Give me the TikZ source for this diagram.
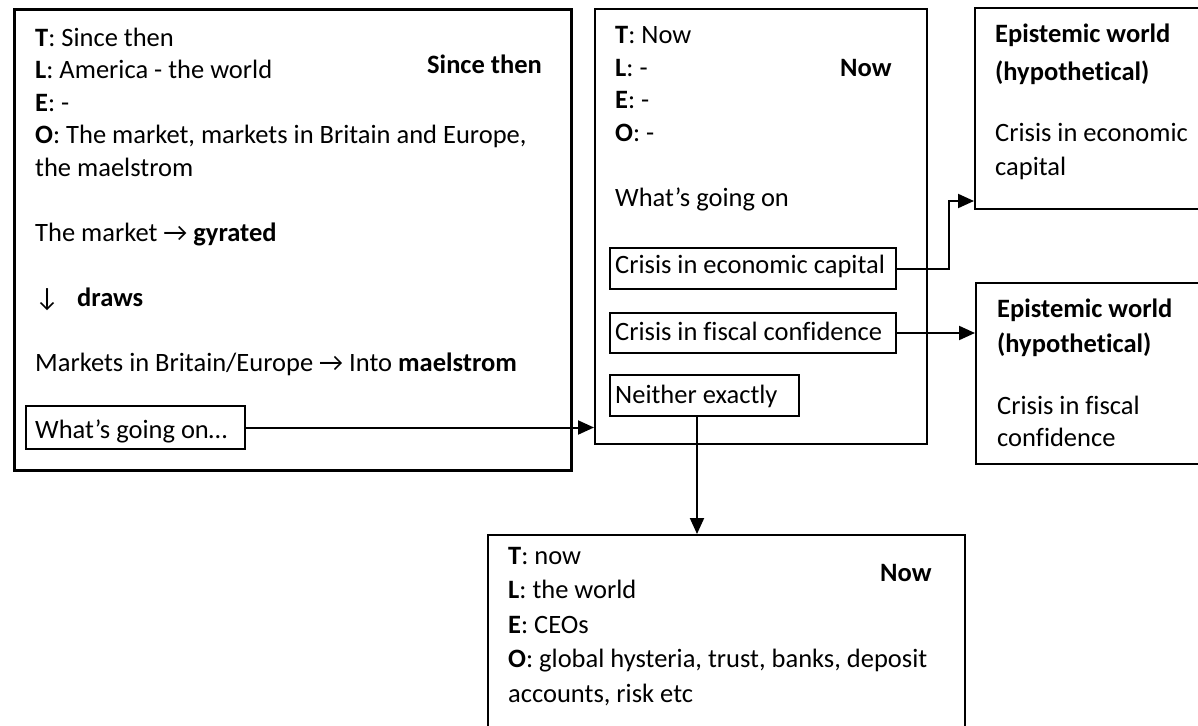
\documentclass[tikz,border=0pt]{standalone}
\usepackage{fontspec}
\setmainfont[Ligatures=NoCommon]{Carlito}
\usetikzlibrary{arrows.meta}

\tikzset{
  frame/.style={draw, line width=2pt, inner sep=0pt, anchor=north west},
  heavyframe/.style={frame, line width=2.7pt},
  txt/.style={anchor=base west, inner sep=0pt, font=\fontsize{26.5}{32.5}\selectfont},
  link/.style={line width=2pt, -{Triangle[length=16pt,width=14pt]}},
}
% a top-aligned block of lines whose baseline is that of its first line
\newcommand{\lines}[2]{\parbox[t]{#1}{\raggedright #2}}
\newcommand{\arr}{→}
\newcommand{\darr}{↓}

\begin{document}
\begin{tikzpicture}[x=1pt,y=-1pt]
\fill[white] (0,0) rectangle (1198,725);
\useasboundingbox (0,0) rectangle (1198,725);

% ---- "Since then" world
\node[heavyframe, minimum width=557pt, minimum height=461pt] (since) at (13,8) {};
\node[txt] (sincetext) at (35,46) {\lines{530pt}{%
  \textbf{T}: Since then\\
  \textbf{L}: America - the world\\
  \textbf{E}: -\\
  \textbf{O}: The market, markets in Britain and Europe,\\
  the maelstrom\\[32.5pt]
  The market \arr{} \textbf{gyrated}\\[32.5pt]
  \makebox[42pt][l]{\darr}\textbf{draws}\\[32.5pt]
  Markets in Britain/Europe \arr{} Into \textbf{maelstrom}}};
\node[txt] (sincelabel) at (427,74) {\textbf{Since then}};
\node[frame, minimum width=219pt, minimum height=43pt] (whats) at (25,405) {};
\node[txt] (whatstext) at (35,438) {What’s going on…};

% ---- "Now" world
\node[frame, minimum width=332pt, minimum height=435pt] (now) at (594,8) {};
\node[txt] (nowtext) at (615,44) {\lines{300pt}{%
  \textbf{T}: Now\\
  \textbf{L}: -\\
  \textbf{E}: -\\
  \textbf{O}: -\\[32.5pt]
  What’s going on}};
\node[txt] (nowlabel) at (840,76) {\textbf{Now}};
\node[frame, minimum width=286pt, minimum height=41pt] (econ) at (609,247) {};
\node[txt] (econtext) at (615,273) {Crisis in economic capital};
\node[frame, minimum width=286pt, minimum height=40pt] (fiscal) at (609,312) {};
\node[txt] (fiscaltext) at (615,340) {Crisis in fiscal confidence};
\node[frame, minimum width=189pt, minimum height=41pt] (neither) at (609,374) {};
\node[txt] (neithertext) at (615,403) {Neither exactly};

% ---- epistemic worlds
\node[frame, minimum width=250pt, minimum height=201pt] (epi1) at (974,7) {};
\node[txt] (epi1text) at (995,42) {\lines{210pt}{%
  \textbf{Epistemic world}\\[5.5pt]
  \textbf{(hypothetical)}\\[28.5pt]
  Crisis in economic\\[1.5pt]
  capital}};
\node[frame, minimum width=250pt, minimum height=181pt] (epi2) at (975,282) {};
\node[txt] (epi2text) at (997,317) {\lines{210pt}{%
  \textbf{Epistemic world}\\[2.5pt]
  \textbf{(hypothetical)}\\[29.5pt]
  Crisis in fiscal\\
  confidence}};

% ---- world reached through "Neither exactly"
\node[frame, minimum width=477pt, minimum height=230pt] (later) at (487,534) {};
\node[txt] (latertext) at (508,564) {\lines{440pt}{%
  \textbf{T}: now\\[2pt]
  \textbf{L}: the world\\[2pt]
  \textbf{E}: CEOs\\[2pt]
  \textbf{O}: global hysteria, trust, banks, deposit\\[2pt]
  accounts, risk etc}};
\node[txt] (laterlabel) at (880,581) {\textbf{Now}};

% ---- connectors
\coordinate (bend) at (949,201);
\draw[link] (whats.east) -- (whats.east -| now.west);
\draw[link] (econ.east) -| (bend) -- (bend -| epi1.west);
\draw[link] (fiscal.east) -- (fiscal.east -| epi2.west);
\draw[link] ([xshift=-7.5pt]neither.south) -- ([xshift=-7.5pt]neither.south |- later.north);
\end{tikzpicture}
\end{document}
